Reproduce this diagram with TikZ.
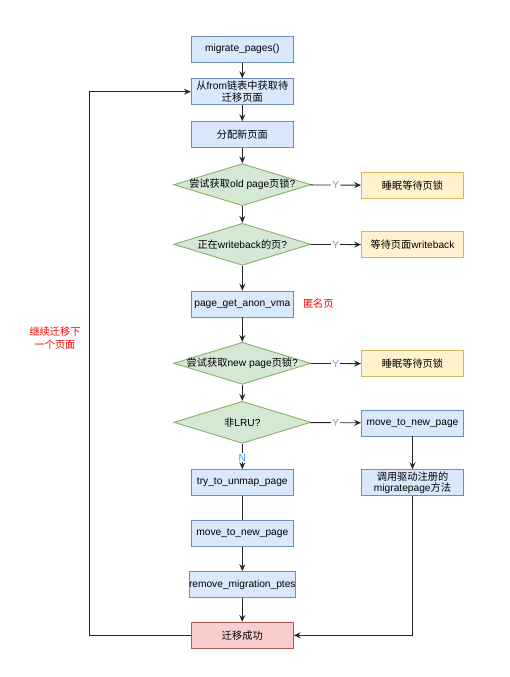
\documentclass[tikz,border=0pt]{standalone}
\usepackage{fontspec}
\setmainfont{Liberation Sans}
\newfontfamily\cjk{Noto Sans CJK SC}
\usetikzlibrary{shapes.geometric,arrows.meta}
\definecolor{bfill}{HTML}{DAE8FC}\definecolor{bline}{HTML}{6C8EBF}
\definecolor{gfill}{HTML}{D5E8D4}\definecolor{gline}{HTML}{82B366}
\definecolor{yfill}{HTML}{FFF2CC}\definecolor{yline}{HTML}{D6B656}
\definecolor{rfill}{HTML}{F8CECC}\definecolor{rline}{HTML}{B85450}
\definecolor{ycol}{HTML}{7F8CFF}
\definecolor{ncol}{HTML}{3399FF}
\tikzset{
  base/.style={font=\fontsize{10.2}{11.7}\selectfont, align=center, inner sep=0pt, line width=0.9pt},
  bbox/.style={base, rectangle, draw=bline, fill=bfill, minimum width=102pt, minimum height=26pt},
  ybox/.style={base, rectangle, draw=yline, fill=yfill, minimum width=102pt, minimum height=26pt},
  rbox/.style={base, rectangle, draw=rline, fill=rfill, minimum width=102pt, minimum height=26pt},
  dia/.style={base, diamond, draw=gline, fill=gfill, minimum width=137pt, minimum height=42pt, aspect=3.26},
  arr/.style={line width=0.9pt, draw=black!85, -{Stealth[length=7pt,width=6pt,inset=2.5pt]}},
  ln/.style={line width=0.9pt, draw=black!85},
  ylab/.style={fill=white, text=ycol, font=\fontsize{10.2}{11}\selectfont, inner sep=1pt},
  nlab/.style={fill=white, text=ncol, font=\fontsize{10.2}{11}\selectfont, inner sep=1pt},
  red/.style={text=red, font=\fontsize{10.2}{13.3}\selectfont\cjk, align=center}
}
\begin{document}
\begin{tikzpicture}[x=1pt,y=-1pt]
\useasboundingbox[fill=white] (0,0) rectangle (510,677);
\node[bbox] (mp) at (242.3,49.3) {migrate\_pages()};
\node[bbox] (from) at (242.3,91.7) {{\cjk 从}from{\cjk 链表中获取待}\\{\cjk 迁移页面}};
\node[bbox] (alloc) at (242.3,134.7) {\cjk 分配新页面};
\node[dia, label={[base]center:{\cjk 尝试获取}old page{\cjk 页锁}?}] (d1) at (242.3,184.7) {};
\node[ybox] (s1) at (412.5,185.3) {\cjk 睡眠等待页锁};
\node[dia, label={[base]center:{\cjk 正在}writeback{\cjk 的页}?}] (d2) at (242.3,244.3) {};
\node[ybox] (wb) at (412.5,244.7) {{\cjk 等待页面}writeback};
\node[bbox] (anon) at (242.3,304) {page\_get\_anon\_vma};
\node[red] (anonlab) at (318.3,303.8) {匿名页};
\node[dia, label={[base]center:{\cjk 尝试获取}new page{\cjk 页锁}?}] (d3) at (242.3,363.3) {};
\node[ybox] (s2) at (412.5,363.7) {\cjk 睡眠等待页锁};
\node[dia, label={[base]center:{\cjk 非}LRU?}] (d4) at (242.3,422.3) {};
\node[bbox] (mtr) at (412.5,423) {move\_to\_new\_page};
\node[bbox] (drv) at (412.5,482.7) {{\cjk 调用驱动注册的}\\migratepage{\cjk 方法}};
\node[bbox] (try) at (242.3,482.7) {try\_to\_unmap\_page};
\node[bbox] (mtn) at (242.3,533.3) {move\_to\_new\_page};
\node[bbox] (rmp) at (242.3,584.5) {remove\_migration\_ptes};
\node[rbox] (ok) at (242.3,635.3) {\cjk 迁移成功};
\node[red] (cont) at (55,338.3) {继续迁移下\\一个页面};
\coordinate (lp) at (89.7,635.3);
\draw[arr] (mp) -- (from);
\draw[arr] (from) -- (alloc);
\draw[arr] (alloc) -- (d1);
\draw[arr] (d1) -- (d2);
\draw[arr] (d2) -- (anon);
\draw[arr] (anon) -- (d3);
\draw[arr] (d3) -- (d4);
\draw[arr] (d4) -- node[nlab, pos=0.55] {N} (try);
\draw[ln] (try) -- (mtn);
\draw[arr] (mtn) -- (rmp);
\draw[arr] (rmp) -- (ok);
\draw[arr] (d1) -- node[ylab] {Y} (s1);
\draw[arr] (d2) -- node[ylab] {Y} (wb);
\draw[arr] (d3) -- node[ylab] {Y} (s2);
\draw[arr] (d4) -- node[ylab] {Y} (mtr);
\draw[arr] (mtr) -- (drv);
\draw[arr] (drv.south) |- (ok.east);
\draw[arr] (ok.west) -- (lp) |- (from.west);
\end{tikzpicture}
\end{document}
